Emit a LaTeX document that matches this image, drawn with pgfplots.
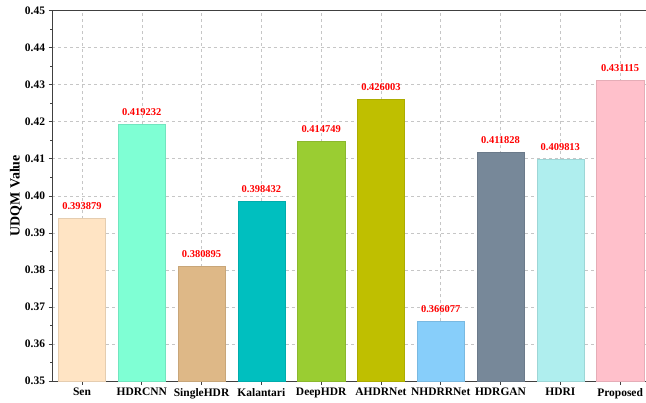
\documentclass[border=0pt]{standalone}
\usepackage{pgfplots}
\pgfplotsset{compat=1.18}
\usepackage{fontspec}
\setmainfont{Liberation Serif}
\definecolor{c0}{HTML}{FFE4C4}
\definecolor{c1}{HTML}{7FFFD4}
\definecolor{c2}{HTML}{DEB887}
\definecolor{c3}{HTML}{00BFBF}
\definecolor{c4}{HTML}{9ACD32}
\definecolor{c5}{HTML}{BFBF00}
\definecolor{c6}{HTML}{87CEFA}
\definecolor{c7}{HTML}{778899}
\definecolor{c8}{HTML}{AFEEEE}
\definecolor{c9}{HTML}{FFC0CB}
\definecolor{axc}{HTML}{404040}
\begin{document}
\begin{tikzpicture}
\begin{axis}[
  scale only axis,
  width=597bp, height=370bp,
  xmin=-0.5, xmax=9.5,
  ymin=0.35, ymax=0.45,
  xtick={0,...,9},
  xticklabels={Sen,HDRCNN,SingleHDR,Kalantari,DeepHDR,AHDRNet,NHDRRNet,HDRGAN,HDRI,Proposed},
  ytick={0.35,0.36,...,0.451},
  yticklabel style={/pgf/number format/.cd,fixed,fixed zerofill,precision=2},
  minor y tick num=1,
  tick align=outside,
  tick pos=left,
  axis x line*=bottom, axis y line*=left,
  axis line style={axc, line width=0.8pt, -},
  major tick style={axc, line width=0.6pt},
  minor tick style={axc, line width=0.5pt},
  major tick length=3.5bp, minor tick length=2bp,
  grid=major,
  major grid style={gray!45, dashed, line width=0.5pt},
  ticklabel style={font=\bfseries\fontsize{11.5}{12}\selectfont},
  /pgf/number format/assume math mode=true,
  ylabel={\bfseries UDQM Value},
  ylabel style={font=\fontsize{14}{14}\selectfont, at={([xshift=-36bp]rel axis cs:0,0.5)}, anchor=center},
  ybar, bar width=0.79,
  bar shift=0pt,
  nodes near coords,
  nodes near coords style={font=\bfseries\fontsize{10.5}{11}\selectfont, text=red, yshift=5bp,
    /pgf/number format/.cd, fixed, precision=6, fixed zerofill},
  clip=false,
]
\addplot[fill=c0, draw=c0!90!black, line width=0.3pt] coordinates {(0,0.393879)};
\addplot[fill=c1, draw=c1!90!black, line width=0.3pt] coordinates {(1,0.419232)};
\addplot[fill=c2, draw=c2!90!black, line width=0.3pt] coordinates {(2,0.380895)};
\addplot[fill=c3, draw=c3!90!black, line width=0.3pt] coordinates {(3,0.398432)};
\addplot[fill=c4, draw=c4!90!black, line width=0.3pt] coordinates {(4,0.414749)};
\addplot[fill=c5, draw=c5!90!black, line width=0.3pt] coordinates {(5,0.426003)};
\addplot[fill=c6, draw=c6!90!black, line width=0.3pt] coordinates {(6,0.366077)};
\addplot[fill=c7, draw=c7!90!black, line width=0.3pt] coordinates {(7,0.411828)};
\addplot[fill=c8, draw=c8!90!black, line width=0.3pt] coordinates {(8,0.409813)};
\addplot[fill=c9, draw=c9!90!black, line width=0.3pt] coordinates {(9,0.431115)};
\draw[axc, line width=0.8pt] (rel axis cs:0,1) -- (rel axis cs:1,1);
\end{axis}
\pgfresetboundingbox
\path ([shift={(-52bp,-21bp)}]current axis.south west) rectangle ([shift={(-4bp,10.5bp)}]current axis.north east);
\end{tikzpicture}
\end{document}
